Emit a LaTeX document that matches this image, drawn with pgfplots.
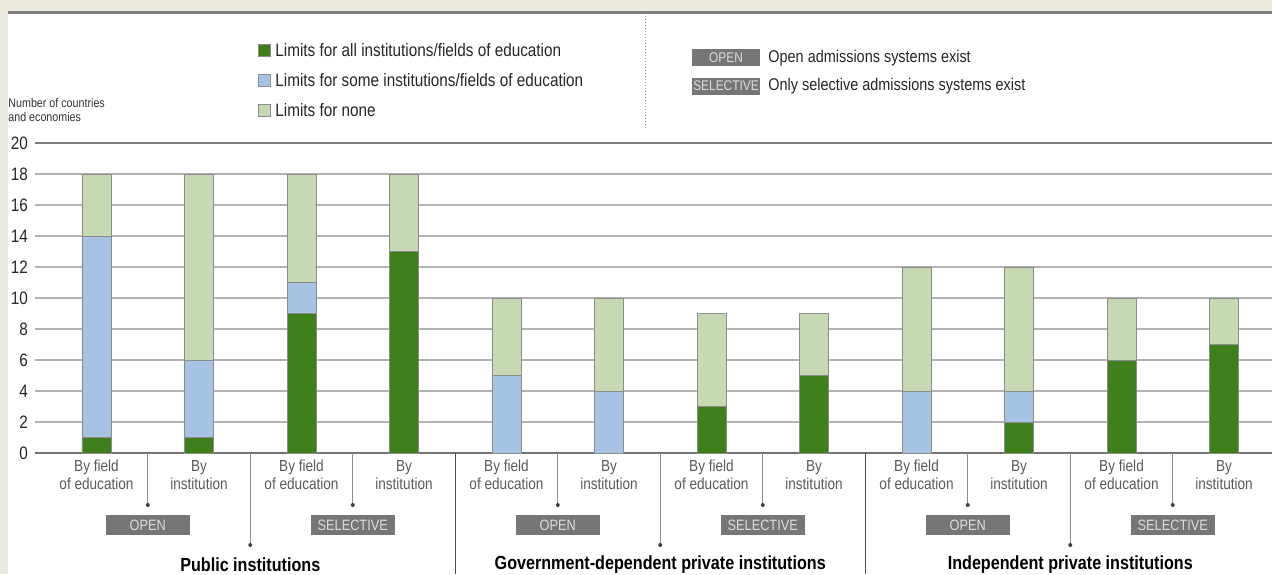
\documentclass[border=0pt]{standalone}
\usepackage{fontspec}
\setmainfont{Liberation Sans}[FakeStretch=0.85]
\usepackage{pgfplots}
\pgfplotsset{compat=1.18}

\definecolor{dg}{RGB}{62,127,27}
\definecolor{lb}{RGB}{167,195,228}
\definecolor{lg}{RGB}{199,217,178}
\definecolor{beige}{RGB}{236,233,223}
\definecolor{gridc}{RGB}{178,178,178}
\definecolor{boxc}{RGB}{118,118,118}
\definecolor{boxt}{RGB}{220,220,220}
\definecolor{txt}{RGB}{90,90,90}
\definecolor{edge}{RGB}{140,140,140}

\begin{document}
\begin{tikzpicture}
% background (pixel grid of the reference, 1px = 0.5pt)
\begin{scope}[shift={(-17.5pt,226.5pt)},x=0.5pt,y=-0.5pt]
  \fill[beige] (0,0) rectangle (1272,574);
  \fill[white] (8,12) rectangle (1272,574);
  \draw[black!50, line width=1.2pt] (8,12.5) -- (1272,12.5);
  \draw[black!40, densely dotted, line width=0.5pt] (645,13) -- (645,130);
\end{scope}

\begin{axis}[
  scale only axis,
  width=618.5pt, height=155pt,
  xmin=-0.6, xmax=11.468,
  ymin=0, ymax=20,
  ybar stacked, bar width=0.283,
  ytick={0,2,...,20},
  xtick={0,...,11},
  xticklabels={{By field\\of education},{By\\institution},{By field\\of education},{By\\institution},
               {By field\\of education},{By\\institution},{By field\\of education},{By\\institution},
               {By field\\of education},{By\\institution},{By field\\of education},{By\\institution}},
  xticklabel style={font=\fontsize{8}{9}\selectfont, text=txt, align=center},
  yticklabel style={font=\fontsize{9}{10}\selectfont, text=black!85},
  /pgf/number format/assume math mode=true,
  axis line style={draw=none},
  major tick length=0pt,
  ymajorgrids, grid style={gridc, line width=0.7pt},
  clip=false,
]
% limits for all institutions/fields of education
\addplot[fill=dg, draw=edge, line width=0.3pt] coordinates {
  (0,1) (1,1) (2,9) (3,13) (4,0) (5,0) (6,3) (7,5) (8,0) (9,2) (10,6) (11,7)};
% limits for some
\addplot[fill=lb, draw=edge, line width=0.3pt] coordinates {
  (0,13) (1,5) (2,2) (3,0) (4,5) (5,4) (6,0) (7,0) (8,4) (9,2) (10,0) (11,0)};
% limits for none
\addplot[fill=lg, draw=edge, line width=0.3pt] coordinates {
  (0,4) (1,12) (2,7) (3,5) (4,5) (5,6) (6,6) (7,4) (8,8) (9,8) (10,4) (11,3)};
\draw[black!55, line width=0.8pt] (axis cs:-0.6,0) -- (axis cs:11.468,0);
\draw[black!50, line width=0.8pt] (axis cs:-0.6,20) -- (axis cs:11.468,20);
\end{axis}

\begin{scope}[shift={(-17.5pt,226.5pt)},x=0.5pt,y=-0.5pt]
  % y axis title
  \node[anchor=north west, align=left, inner sep=0pt, font=\fontsize{6.3}{7}\selectfont, text=black!80]
    at (8,98) {Number of countries\\and economies};
  % left legend
  \foreach \Y/\C/\T in {50/dg/{Limits for all institutions/fields of education},
                        80/lb/{Limits for some institutions/fields of education},
                        110/lg/{Limits for none}} {
    \fill[\C, draw=edge, line width=0.3pt] (258,\Y-6) rectangle (270,\Y+6);
    \node[anchor=west, inner sep=0pt, font=\fontsize{9}{10}\selectfont, text=black!85] at (275,\Y) {\T};
  }
  % right legend
  \node[fill=boxc, text=boxt, minimum width=34pt, minimum height=8.5pt, inner sep=0.5pt,
        font=\fontsize{7}{8}\selectfont] at (726,58) {OPEN};
  \node[anchor=west, inner sep=0pt, font=\fontsize{8.5}{10}\selectfont, text=black!85] at (768,58)
    {Open admissions systems exist};
  \node[fill=boxc, text=boxt, minimum width=34pt, minimum height=8.5pt, inner sep=0.5pt,
        font=\fontsize{7}{8}\selectfont] at (726,86) {SELECTIVE};
  \node[anchor=west, inner sep=0pt, font=\fontsize{8.5}{10}\selectfont, text=black!85] at (768,86)
    {Only selective admissions systems exist};
  % short connectors to OPEN / SELECTIVE boxes
  \foreach \X/\T in {147.75/OPEN,352.75/SELECTIVE,557.75/OPEN,762.75/SELECTIVE,967.75/OPEN,1172.75/SELECTIVE} {
    \draw[black!45, line width=0.4pt] (\X,453) -- (\X,505);
    \fill[black!75] (\X,505) circle (1pt);
    \node[fill=boxc, text=boxt, minimum width=42pt, minimum height=10pt, inner sep=0pt,
          font=\fontsize{7.5}{8}\selectfont] at (\X,525) {\T};
  }
  % long connectors to group labels
  \foreach \X/\T in {250.25/Public institutions,660.25/Government-dependent private institutions,
                     1070.25/Independent private institutions} {
    \draw[black!45, line width=0.4pt] (\X,453) -- (\X,545);
    \fill[black!75] (\X,545) circle (1pt);
    \node[inner sep=0pt, font=\bfseries\fontsize{9.5}{10}\selectfont] at (\X,565) {\T};
  }
  % group dividers
  \foreach \X in {455.25,865.25}
    \draw[black!70, line width=0.6pt] (\X,453) -- (\X,574);
  \pgfresetboundingbox
  \path[use as bounding box] (0,0) rectangle (1272,574);
\end{scope}
\end{tikzpicture}
\end{document}
